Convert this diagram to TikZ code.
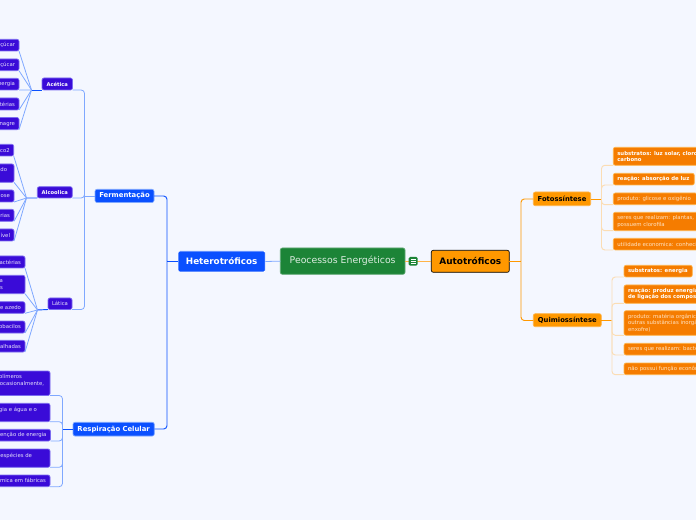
\documentclass[tikz,border=0pt]{standalone}
\usepackage{fontspec}
\setmainfont{DejaVu Sans}
\definecolor{bgc}{HTML}{F4F7FF}
\definecolor{indigoc}{HTML}{3A0BD8}
\definecolor{indigob}{HTML}{7C6CF0}
\definecolor{bluec}{HTML}{0A50FF}
\definecolor{blueb}{HTML}{7FA8FF}
\definecolor{greenc}{HTML}{1C8437}
\definecolor{orangep}{HTML}{FF9800}
\definecolor{orangec}{HTML}{F57C00}
\definecolor{orangel}{HTML}{FBDDB4}
\definecolor{orangem}{HTML}{FFB347}
\definecolor{paleor}{HTML}{FFE3C4}
\newcommand{\bx}[7]{%
  \pgfmathsetmacro\bw{(#4-(#2))*.75}\pgfmathsetmacro\bh{(#5-(#3))*.75}%
  \pgfmathsetmacro\tw{\bw-6}%
  \node[#6,minimum width=\bw pt,minimum height=\bh pt,text width=\tw pt] (#1) at ({(#2+#4)/2},{(#3+#5)/2}) {#7};}
\tikzset{
  anybox/.style={rounded corners=1.5pt,inner xsep=3pt,inner ysep=0pt,outer sep=0pt,line width=.5pt},
  leafl/.style={anybox,fill=indigoc,draw=indigob,text=white!88!indigoc,align=flush right,font=\fontsize{4pt}{4.9pt}\selectfont},
  subl/.style={anybox,fill=indigoc,draw=indigob,text=white,align=center,font=\fontsize{3.9pt}{4.9pt}\selectfont\bfseries},
  branchb/.style={anybox,fill=bluec,draw=blueb,text=white,align=center,font=\fontsize{5.15pt}{6pt}\selectfont\bfseries},
  leafr/.style={anybox,fill=orangec,draw=orangem,text=paleor,align=flush left,font=\fontsize{4.05pt}{4.9pt}\selectfont},
  leafrb/.style={leafr,text=white,font=\fontsize{4pt}{4.9pt}\selectfont\bfseries},
  brancho/.style={anybox,fill=orangep,draw=orangem,text=black,align=center,font=\fontsize{5.1pt}{6pt}\selectfont\bfseries},
  linkb/.style={draw=blueb,line width=.6pt,rounded corners=2.5pt},
  linkd/.style={draw=bluec,line width=.7pt,rounded corners=2.5pt},
  linkl/.style={draw=orangel,line width=.7pt,rounded corners=2.5pt},
  linko/.style={draw=orangep,line width=.7pt,rounded corners=2.5pt},
  linkm/.style={draw=orangem,line width=.7pt},
}
\begin{document}
\begin{tikzpicture}[x=.75pt,y=-.75pt]
\useasboundingbox (0,0) rectangle (696,520);
\clip (0,0) rectangle (696,520);
\fill[bgc] (0,0) rectangle (696,520);

% centre
\bx{centre}{280.3}{248}{405}{274.3}{anybox,fill=greenc,draw=greenc!70!white,text=white!85!greenc,align=center,font=\fontsize{7pt}{8pt}\selectfont}{Peocessos Energéticos}
\bx{hetero}{178}{251}{265.3}{272}{anybox,fill=bluec,draw=white,text=white,align=center,font=\fontsize{6.6pt}{8pt}\selectfont\bfseries}{Heterotróficos}
\bx{auto}{431.3}{250.3}{509.3}{272.3}{anybox,fill=orangep,draw=black,text=black,align=center,font=\fontsize{6.7pt}{8pt}\selectfont\bfseries}{Autotróficos}

% left branches
\bx{ferm}{95}{189.3}{154}{202.5}{branchb}{Fermentação}
\bx{resp}{73}{422.3}{154.3}{436}{branchb}{Respiração Celular}
\bx{acet}{42}{78}{72.5}{90}{subl}{Acética}
\bx{alco}{37.3}{186.7}{72.3}{198}{subl}{Alcoolica}
\bx{lati}{48}{298}{72}{309.5}{leafl,align=center}{Lática}

% Acetica leaves
\bx{a1}{-60}{39.3}{19}{51}{leafl}{açúcar}
\bx{a2}{-60}{59}{19}{70.7}{leafl}{açúcar}
\bx{a3}{-60}{78.3}{19}{90}{leafl}{energia}
\bx{a4}{-60}{98}{19}{110}{leafl}{bactérias}
\bx{a5}{-60}{117.5}{19}{129.7}{leafl}{vinagre}
% Alcoolica leaves
\bx{b1}{-60}{144.3}{13.7}{156}{leafl}{co2}
\bx{b2}{-60}{164}{14}{182.3}{leafl}{do\kern2.2pt\\~}
\bx{b3}{-60}{190}{14}{202}{leafl}{cose}
\bx{b4}{-60}{209.3}{14}{221.3}{leafl}{rias}
\bx{b5}{-60}{229}{14}{241}{leafl}{ível}
% Latica leaves
\bx{c1}{-60}{256}{25}{268}{leafl}{bactérias}
\bx{c2}{-60}{275.3}{25}{293.7}{leafl}{a\kern13.5pt\\s\kern13.5pt}
\bx{c3}{-60}{301.7}{25}{313.3}{leafl}{e azedo}
\bx{c4}{-60}{321}{25}{333}{leafl}{lactobacilos}
\bx{c5}{-60}{340.3}{25}{352}{leafl}{coalhadas}
% Respiracao leaves
\bx{r1}{-60}{371}{50}{395.5}{leafl}{polímeros\kern18pt\\ocasionalmente,\kern1.5pt\\~}
\bx{r2}{-60}{403.3}{50}{421.7}{leafl}{gia e água e o\kern6.75pt\\~}
\bx{r3}{-60}{429.3}{50.5}{441}{leafl}{enção de energia}
\bx{r4}{-60}{449}{50}{467.3}{leafl}{espécies de\kern10.5pt\\~}
\bx{r5}{-60}{475}{50}{486.7}{leafl}{química em fábricas}

% right branches
\bx{foto}{533.3}{192}{590.7}{205.7}{brancho}{Fotossíntese}
\bx{quim}{533.3}{313.7}{601.3}{326.7}{brancho}{Quimiossíntese}
% Fotossintese leaves
\bx{f1}{613.3}{147.3}{800}{165.3}{leafrb}{substratos: luz solar, clorofila\\carbono}
\bx{f2}{613.3}{173.3}{694.3}{185}{leafrb}{reação: absorção de luz}
\bx{f3}{613.3}{193}{697}{204.7}{leafr}{produto: glicose e oxigênio}
\bx{f4}{613.3}{212.3}{800}{230.7}{leafr}{seres que realizam: plantas,\\possuem clorofila}
\bx{f5}{613.3}{238.3}{800}{250}{leafr}{utilidade economica: conhecimento}
% Quimiossintese leaves
\bx{q1}{624}{265.3}{692.3}{277}{leafrb}{substratos: energia}
\bx{q2}{624}{285}{800}{303.3}{leafrb}{reação: produz energia\\de ligação dos compostos}
\bx{q3}{624}{310.7}{800}{335.3}{leafr}{produto: matéria orgânica\\outras substâncias inorgânicas\\enxofre)}
\bx{q4}{624}{343.3}{800}{355}{leafr}{seres que realizam: bactérias}
\bx{q5}{624}{363}{800}{374.7}{leafr}{não possui função econômica}

% junction points
\coordinate (hubA) at (31.5,90);
\coordinate (hubB) at (26.5,198);
\coordinate (hubC) at (37.5,310);
\coordinate (vF) at (84.5,196);
\coordinate (vR) at (62.5,429);
\coordinate (vT) at (167,261);
\coordinate (vA) at (521,261);
\coordinate (vFo) at (601.5,199);
\coordinate (vQu) at (612,320.5);

% left connectors
\draw[linkd] (hetero.west |- vT) -- (vT);
\draw[linkd] (ferm.east |- 0,196) -| (vT);
\draw[linkd] (resp.east |- 0,429) -| (vT);
\draw[linkb] (centre.west) -- (hetero.east);
\draw[linkb] (ferm.west |- vF) -- (vF);
\draw[linkb] (acet.south east) -| (vF);
\draw[linkb] (alco.south east) -| (vF);
\draw[linkb] (lati.south east) -| (vF);
\draw[linkd] (acet.south west) -- (hubA);
\draw[linkd] (alco.south west) -- (hubB);
\draw[linkd] (lati.south west) -- (hubC);
\foreach \n in {a1,a2,a3,a4,a5} \draw[linkb,rounded corners=0pt] (\n.south east) -- (hubA);
\foreach \n in {b1,b2,b3,b4,b5} \draw[linkb,rounded corners=0pt] (\n.south east) -- (hubB);
\foreach \n in {c1,c2,c3,c4,c5} \draw[linkb,rounded corners=0pt] (\n.south east) -- (hubC);
\draw[linkd] (resp.west |- vR) -- (vR);
\foreach \n in {r1,r2,r3,r4,r5} \draw[linkb] (\n.south east) -| (vR);

% right connectors
\draw[linkm] (centre.east |- 0,261) -- (auto.west |- 0,261);
\draw[linko] (auto.east |- vA) -- (vA);
\draw[linko] (foto.west |- vFo) -| (vA);
\draw[linko] (quim.west |- vQu) -| (vA);
\draw[linko] (foto.east |- vFo) -- (vFo);
\draw[linko] (quim.east |- vQu) -- (vQu);
\foreach \n in {f1,f2,f3,f4,f5} \draw[linkl] (\n.south west) -| (vFo);
\foreach \n in {q1,q2,q3,q4,q5} \draw[linkl] (\n.south west) -| (vQu);

% note icon
\node[fill=greenc,rounded corners=1pt,minimum width=6.7pt,minimum height=6.5pt,inner sep=0pt] (icon) at (413.2,261.3) {};
\foreach \dy in {-1.5,0,1.5} \draw[white,line width=.4pt] ([xshift=-1.8pt,yshift=\dy pt]icon.center) -- ([xshift=1.8pt,yshift=\dy pt]icon.center);
\end{tikzpicture}
\end{document}
